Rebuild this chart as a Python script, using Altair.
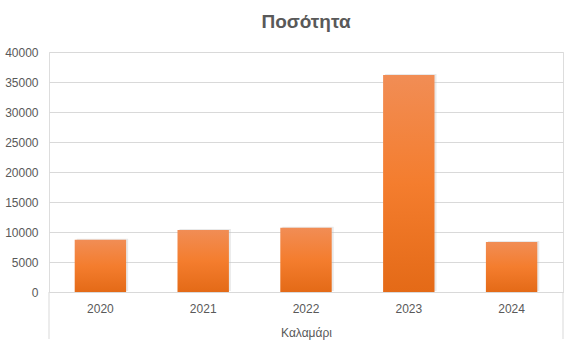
import altair as alt
import pandas as pd

years = ["2020", "2021", "2022", "2023", "2024"]
values = [8700, 10350, 10700, 36150, 8350]
group_label = "Καλαμάρι"
title_text = "Ποσότητα"

df = pd.DataFrame({"year": years, "value": values})

W, H = 514, 240
grid = "#D9D9D9"
txt = "#595959"

grad = alt.Gradient(
    gradient="linear",
    stops=[
        alt.GradientStop(color="#F18D55", offset=0),
        alt.GradientStop(color="#F47D2E", offset=0.5),
        alt.GradientStop(color="#E46A17", offset=1),
    ],
    x1=0, x2=0, y1=0, y2=1,
)

x = alt.X(
    "year:N",
    sort=years,
    scale=alt.Scale(paddingInner=0.5, paddingOuter=0.25),
    axis=alt.Axis(
        title=group_label,
        titleFont="Liberation Sans",
        titleFontSize=12,
        titleFontWeight="normal",
        titleColor=txt,
        titlePadding=13,
        labelFont="Liberation Sans",
        labelFontSize=12,
        labelColor=txt,
        labelPadding=11,
        labelAngle=0,
        ticks=False,
        domainColor=grid,
        domainWidth=1,
        grid=False,
    ),
)
y = alt.Y(
    "value:Q",
    scale=alt.Scale(domain=[0, 40000], nice=False),
    axis=alt.Axis(
        title=None,
        values=list(range(0, 40001, 5000)),
        format="d",
        labelFont="Liberation Sans",
        labelFontSize=12,
        labelColor=txt,
        labelPadding=11,
        ticks=False,
        domain=False,
        gridColor=grid,
        gridWidth=1,
    ),
)

shadow = alt.Chart(df).mark_bar(color="#BFBFBF", opacity=0.35, xOffset=2, yOffset=-1).encode(
    x=x, y=y
)
bars = alt.Chart(df).mark_bar(fill=grad).encode(x=x, y=y)

edge_df = pd.DataFrame({"xp": [0, W]})
edges = alt.Chart(edge_df).mark_rule(color=grid, strokeWidth=1).encode(
    x=alt.X("xp:Q", scale=None), y=alt.value(H), y2=alt.value(H + 47)
)

chart = (
    alt.layer(shadow, bars, edges)
    .properties(
        width=W,
        height=H,
        title=alt.TitleParams(
            title_text,
            font="Liberation Sans",
            fontSize=19,
            fontWeight="bold",
            color=txt,
            anchor="middle",
            offset=14,
        ),
        autosize=alt.AutoSizeParams(type="none"),
        padding={"left": 49, "top": 52, "right": 15, "bottom": 56},
    )
    .configure_view(stroke=None)
    .configure(background="white")
)

chart.save("out.html", embed_options={"renderer": "svg", "actions": False})
